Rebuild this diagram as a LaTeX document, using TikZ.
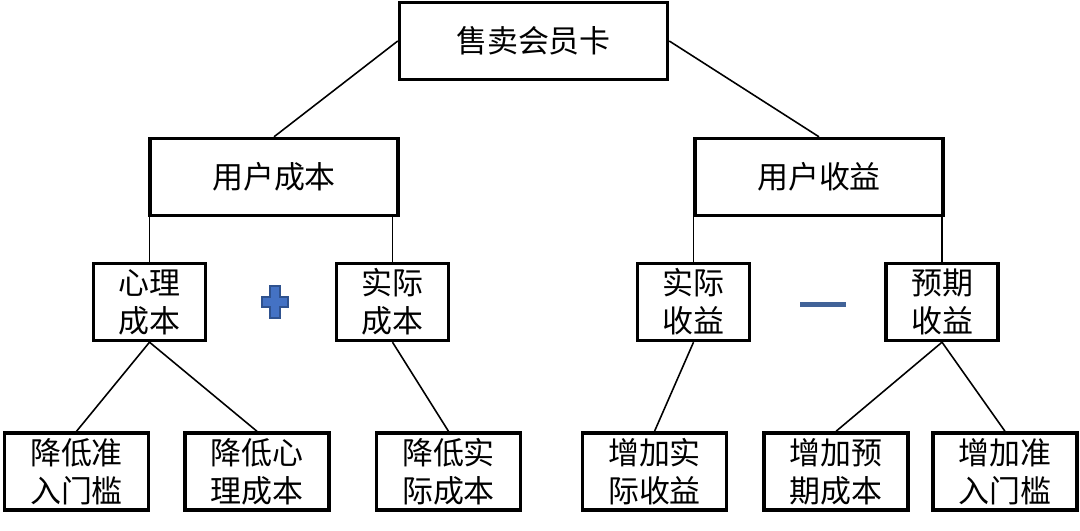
\documentclass[tikz,border=0pt]{standalone}
\usepackage{fontspec}
\newfontfamily\cjk{Noto Sans CJK SC}
\usetikzlibrary{positioning}
\definecolor{plusblue}{RGB}{68,114,196}
\definecolor{plusedge}{RGB}{47,82,143}
\definecolor{minusblue}{RGB}{65,99,152}
\tikzset{
  hb/.style={rectangle,draw,line width=0.95pt,minimum width=2.68cm,minimum height=0.77cm,inner sep=0pt,align=center,font=\cjk\fontsize{8.8}{10.8}\selectfont},
  mb/.style={hb,minimum width=2.48cm},
  sb/.style={hb,minimum width=1.12cm},
  lb/.style={hb,minimum width=1.44cm},
  ln/.style={line width=0.45pt},
}

\begin{document}
\begin{tikzpicture}[x=0.01cm,y=-0.01cm]
  \useasboundingbox (0,0) rectangle (1080,530);
  \node[hb] (card) at (533.5,41) {售卖会员卡};
  \node[mb] (cost) at (274,177) {用户成本};
  \node[mb] (gain) at (819,177) {用户收益};
  \node[sb] (psy) at (149.5,302) {心理\\成本};
  \node[sb] (act) at (392.5,302) {实际\\成本};
  \node[sb] (real) at (693.5,302) {实际\\收益};
  \node[sb] (exp) at (942,302) {预期\\收益};
  \node[lb] (l1) at (76.5,471.5) {降低准\\入门槛};
  \node[lb] (l2) at (257,471.5) {降低心\\理成本};
  \node[lb] (l3) at (448.5,471.5) {降低实\\际成本};
  \node[lb] (l4) at (654.5,471.5) {增加实\\际收益};
  \node[lb] (l5) at (836,471.5) {增加预\\期成本};
  \node[lb] (l6) at (1005,471.5) {增加准\\入门槛};
  \draw[ln] (card.west) -- (cost.north); \draw[ln] (card.east) -- (gain.north);
  \foreach \ch/\pa in {psy/cost,act/cost,real/gain,exp/gain}
    \draw[ln] (\ch.north) -- (\ch.north |- \pa.south);
  \foreach \ch/\pa in {l1/psy,l2/psy,l3/act,l4/real,l5/exp,l6/exp}
    \draw[ln] (\pa.south) -- (\ch.north);
  \coordinate (pl) at (275,302);
  \filldraw[fill=plusblue,draw=plusedge,line width=0.4pt,shift={(pl)}] (-5,-16) -- (5,-16) -- (5,-5) -- (13,-5) -- (13,5) -- (5,5) -- (5,16) -- (-5,16) -- (-5,5) -- (-13,5) -- (-13,-5) -- (-5,-5) -- cycle;
  \coordinate (mn) at (823,304);
  \fill[minusblue,shift={(mn)}] (-23,-2.5) rectangle (23,2.5);
\end{tikzpicture}
\end{document}
